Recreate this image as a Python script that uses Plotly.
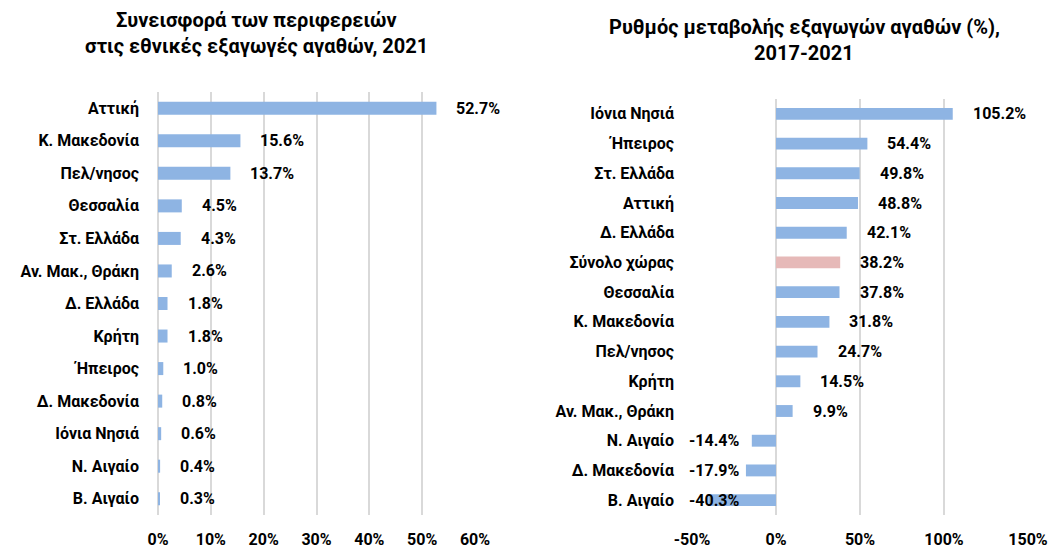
import plotly.graph_objects as go

# Left chart: contribution to national exports, 2021
left_regions = ["Αττική", "Κ. Μακεδονία", "Πελ/νησος", "Θεσσαλία", "Στ. Ελλάδα",
                "Αν. Μακ., Θράκη", "Δ. Ελλάδα", "Κρήτη", "Ήπειρος", "Δ. Μακεδονία",
                "Ιόνια Νησιά", "Ν. Αιγαίο", "Β. Αιγαίο"]
left_values = [52.7, 15.6, 13.7, 4.5, 4.3, 2.6, 1.8, 1.8, 1.0, 0.8, 0.6, 0.4, 0.3]
left_ticks = [0, 10, 20, 30, 40, 50, 60]
left_title = ["Συνεισφορά των περιφερειών", "στις εθνικές εξαγωγές αγαθών, 2021"]

# Right chart: change of exports 2017-2021 (%)
right_regions = ["Ιόνια Νησιά", "Ήπειρος", "Στ. Ελλάδα", "Αττική", "Δ. Ελλάδα",
                 "Σύνολο χώρας", "Θεσσαλία", "Κ. Μακεδονία", "Πελ/νησος", "Κρήτη",
                 "Αν. Μακ., Θράκη", "Ν. Αιγαίο", "Δ. Μακεδονία", "Β. Αιγαίο"]
right_values = [105.2, 54.4, 49.8, 48.8, 42.1, 38.2, 37.8, 31.8, 24.7, 14.5, 9.9,
                -14.4, -17.9, -40.3]
right_ticks = [-50, 0, 50, 100, 150]
right_title = ["Ρυθμός μεταβολής εξαγωγών αγαθών (%),", "2017-2021"]
total_label = "Σύνολο χώρας"

BLUE = "#8EB4E3"
PINK = "#E6B9B8"
GRID = "#D9D9D9"
FONT = "Roboto"

# page body has an 8px margin; figure is sized/positioned to compensate
OFF = 8
W, H = 1063 - OFF, 550 - OFF


def px(x):
    return (x - OFF) / W


def py(y):
    return 1 - (y - OFF) / H


fig = go.Figure()

fig.add_trace(go.Bar(
    x=left_values, y=left_regions, orientation="h",
    marker=dict(color=BLUE, line=dict(width=0)),
    xaxis="x", yaxis="y", hoverinfo="x+y", showlegend=False))

fig.add_trace(go.Bar(
    x=right_values, y=right_regions, orientation="h",
    marker=dict(color=[PINK if r == total_label else BLUE for r in right_regions],
                line=dict(width=0)),
    xaxis="x2", yaxis="y2", hoverinfo="x+y", showlegend=False))

annotations = []
lab_font = dict(family=FONT, size=16, color="#000000")
for r, v in zip(left_regions, left_values):
    annotations.append(dict(x=v, y=r, xref="x", yref="y", text="<b>%.1f%%</b>" % v,
                            showarrow=False, xanchor="left", xshift=18, font=lab_font))
for r, v in zip(right_regions, right_values):
    if v >= 0:
        annotations.append(dict(x=v, y=r, xref="x2", yref="y2", text="<b>%.1f%%</b>" % v,
                                showarrow=False, xanchor="left", xshift=18, font=lab_font))
    else:
        # long negative bars get their label pulled near the axis, as in the original
        lx = max(v, -10.5)
        annotations.append(dict(x=lx, y=r, xref="x2", yref="y2", text="<b>%.1f%%</b>" % v,
                                showarrow=False, xanchor="right", xshift=-17, font=lab_font))

title_font = dict(family=FONT, size=20, color="#000000")
for line, yy in zip(left_title, [20, 46]):
    annotations.append(dict(x=px(256), y=py(yy), xref="paper", yref="paper",
                            text="<b>%s</b>" % line, showarrow=False,
                            xanchor="center", yanchor="middle", font=title_font))
for line, yy in zip(right_title, [27, 53]):
    annotations.append(dict(x=px(804), y=py(yy), xref="paper", yref="paper",
                            text="<b>%s</b>" % line, showarrow=False,
                            xanchor="center", yanchor="middle", font=title_font))

tick_font = dict(family=FONT, size=16, color="#000000")

common_x = dict(tickfont=tick_font, showgrid=True, gridcolor=GRID, gridwidth=1.5,
                zeroline=True, zerolinecolor=GRID, zerolinewidth=1.5, showline=False,
                ticks="", ticklabelstandoff=13, automargin=False, fixedrange=True)
common_y = dict(tickfont=tick_font, showgrid=False, showline=False, ticks="",
                autorange="reversed", categoryorder="array", automargin=False,
                fixedrange=True)

fig.update_layout(
    width=W, height=H,
    margin=dict(l=0, r=0, t=0, b=0, autoexpand=False),
    paper_bgcolor="white", plot_bgcolor="white",
    bargap=0.6,
    font=dict(family=FONT),
    annotations=annotations,
    xaxis=dict(domain=[px(158), px(475)], range=[0, 60], tickvals=left_ticks,
               ticktext=["<b>%d%%</b>" % t for t in left_ticks], anchor="y", **common_x),
    yaxis=dict(domain=[py(515), py(92)], categoryarray=left_regions,
               tickvals=left_regions, ticktext=["<b>%s</b>" % r for r in left_regions],
               ticklabelstandoff=18, anchor="x", **common_y),
    xaxis2=dict(domain=[px(692), px(1028)], range=[-50, 150], tickvals=right_ticks,
                ticktext=["<b>%d%%</b>" % t for t in right_ticks], anchor="y2", **common_x),
    yaxis2=dict(domain=[py(515), py(99)], categoryarray=right_regions,
                tickvals=right_regions, ticktext=["<b>%s</b>" % r for r in right_regions],
                ticklabelstandoff=17, anchor="x2", **common_y),
)

fig.write_html("out.html")
